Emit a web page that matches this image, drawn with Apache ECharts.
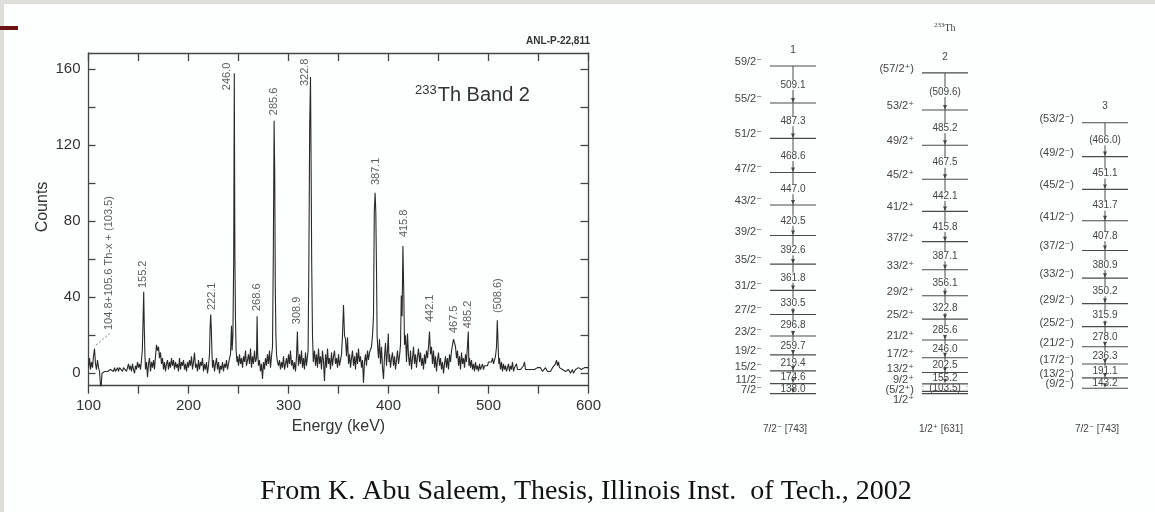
<!DOCTYPE html>
<html><head><meta charset="utf-8">
<script src="https://cdn.jsdelivr.net/npm/echarts@6/dist/echarts.min.js"></script>
<style>html,body{margin:0;padding:0;background:#fdfefe;}#c{width:1155px;height:512px;}</style>
</head><body><div id="c"></div>
<script>
// ---------------- data: spectrum (energy keV, counts) ----------------
const spectrum = [
[100,3],[101,8],[102,2],[103,6],[104,3],[105,9],[106,13],[107,5],[108,2],[109,7],[110,3],[111,1],[112,0],[112.4,-9],[113.2,-9],[113.5,0],[114,1],[115,0],[116,1],[117,0],[118,1],[119,1],[120,2],[121,0],[122,2],[123,1],[124,2],[125,1],[126,3],[127,1],[128,2],[129,3],[130,1],[131,3],[132,2],[133,4],[134,1],[135,3],[136,2],[137,4],[138,1],[139,3],[140,5],[141,2],[142,4],[143,1],[144,5],[145,2],[146,0],[147,4],[148,2],[149,6],[150,3],[151,5],[152,2],[153,7],[153.8,12],[154.4,24],[155.2,43],[155.8,24],[156.4,10],[157,2],[158,6],[159,-2],[160,5],[161,8],[162,1],[163,6],[164,3],[165,7],[166,2],[167,9],[168,15],[169,12],[170,14],[171,8],[172,11],[173,5],[174,8],[175,2],[176,6],[177,1],[178,5],[179,7],[180,2],[181,6],[182,3],[183,8],[184,4],[185,7],[186,2],[187,6],[188,3],[189,5],[190,1],[191,8],[192,2],[193,6],[194,4],[195,7],[196,2],[197,5],[198,1],[199,6],[200,3],[201,7],[202,4],[203,9],[204,2],[205,6],[206,11],[207,3],[208,5],[209,1],[210,7],[211,2],[212,6],[213,4],[214,8],[215,1],[216,5],[217,2],[218,6],[219,0],[220,4],[221,10],[221.6,24],[222.2,31],[222.8,24],[223.4,12],[224,3],[225,7],[226,1],[227,5],[228,8],[229,2],[230,6],[231,0],[232,4],[233,2],[234,6],[235,1],[236,5],[237,3],[238,7],[239,2],[240,5],[241,8],[242,10],[243,25],[243.6,12],[244.4,20],[245.2,60],[245.8,158],[246.4,60],[247,28],[247.6,12],[248.5,6],[249,9],[250,4],[251,10],[252,5],[253,8],[254,3],[255,9],[256,6],[257,12],[258,4],[259,7],[260,10],[261,5],[262,13],[263,3],[264,9],[265,5],[266,12],[267,6],[268,8],[268.6,30],[269.2,10],[270,4],[271,7],[272,1],[273,5],[274,-3],[275,6],[276,2],[277,8],[278,4],[279,10],[280,5],[281,12],[282,3],[283,9],[284,14],[284.8,61],[285.6,133],[286.2,107],[286.8,45],[287.4,20],[288,10],[289,6],[290,4],[291,7],[292,2],[293,6],[294,3],[295,9],[296,2],[297,5],[298,8],[299,3],[300,10],[301,5],[302,12],[303,4],[304,7],[305,2],[306,6],[307,1],[308,9],[308.9,22],[309.6,8],[310,4],[311,10],[312,5],[313,12],[314,3],[315,8],[316,2],[317,11],[318,4],[319,9],[319.6,12],[320.4,61],[321.2,131],[322,156],[322.6,110],[323.2,58],[324,20],[324.8,6],[326,12],[327,4],[328,10],[329,3],[330,13],[331,5],[332,9],[333,2],[334,12],[335,6],[336,-4],[337,10],[338,3],[339,13],[340,5],[341,8],[342,2],[343,11],[344,4],[345,9],[346,12],[347,5],[348,8],[349,3],[350,10],[351,4],[352,7],[353,10],[354,20],[355,36],[356,20],[357,18],[358,9],[359,19],[360,5],[361,10],[362,3],[363,8],[364,12],[365,4],[366,9],[367,2],[368,11],[369,5],[370,13],[371,6],[372,9],[373,3],[374,7],[375,-5],[376,6],[377,10],[378,4],[379,12],[380,7],[381,11],[382,12],[383,14],[384,20],[385,30],[385.8,85],[386.6,95],[387.3,85],[388,55],[388.6,20],[389.4,12],[390,8],[391,18],[392,5],[393,14],[394,3],[395,-3],[396,9],[397,16],[398,4],[399,12],[399.8,21],[400.5,6],[401,10],[402,3],[403,8],[404,11],[405,4],[406,9],[407,2],[408,7],[409,12],[410,5],[411,9],[412,15],[412.8,41],[413.6,30],[414.4,67],[415.2,45],[416,15],[417,20],[418,6],[419,21],[420,9],[421,4],[422,12],[423,2],[424,8],[425,14],[426,5],[427,10],[428,3],[429,9],[430,13],[431,6],[432,11],[433,4],[434,8],[435,2],[436,10],[437,5],[438,12],[439,8],[440,14],[441,22],[442,10],[443,14],[444,5],[445,12],[446,3],[447,9],[448,1],[449,7],[450,11],[451,4],[452,8],[453,2],[454,6],[455,0],[456,5],[457,9],[458,3],[459,8],[460,2],[461,10],[462,6],[463,12],[464,15],[465,18],[466,17],[467,14],[468,8],[469,12],[470,4],[471,9],[472,2],[473,11],[474,5],[475,8],[476,3],[477,10],[478,6],[479.4,6],[479.8,22],[480.4,4],[481,8],[482,3],[483,7],[484,2],[485,5],[486,1],[487,6],[488,2],[489,4],[490,1],[491,5],[492,2],[493,3],[494,5],[495,2],[496,4],[497,3],[498,5],[499,4],[500,6],[501,5],[502,7],[503,6],[504,8],[505,5],[506,7],[507,9],[508,14],[508.8,28],[509.6,15],[510.3,5],[511,8],[512,2],[513,6],[514,1],[515,5],[516,2],[517,4],[518,1],[519,3],[520,5],[521,1],[522,4],[523,2],[524,6],[525,1],[526,3],[527,2],[528,5],[529,2],[530,2],[531,3],[532,2],[533,3],[534,2],[535,4],[536,6],[537,2],[538,3],[539,2],[540,2],[541,1],[542,2],[543,2],[544,1],[545,2],[546,2],[547,3],[548,2],[549,3],[550,4],[551,2],[552,3],[553,2],[554,1],[555,2],[556,2],[557,3],[558,2],[559,1],[560,2],[561,2],[562,1],[563,2],[564,3],[565,2],[566,4],[567,5],[568,7],[569,4],[570,6],[571,3],[572,2],[573,4],[574,2],[575,1],[576,2],[577,1],[578,2],[579,1],[580,2],[581,1],[582,0],[583,1],[584,2],[585,0],[586,1],[587,2],[588,3],[589,2],[590,3],[591,2],[592,3],[593,2],[594,3],[595,2],[596,3],[597,3],[598,2],[599,3],[600,3]
];
// peak annotations (text, energy where the text stands, counts at the text's foot)
const peakLabelText   = ['104.8+105.6 Th-x + (103.5)','155.2','222.1','246.0','268.6','285.6','308.9','322.8','387.1','415.8','442.1','467.5','485.2','(508.6)'];
const peakLabelEnergy = [120.5,154.8,223.2,238.5,268.8,285.5,308.2,316,387.1,415.5,441.5,465.5,479.8,509.8];
const peakLabelFoot   = [22.8,44.9,33.3,149,32.8,135.9,25.9,151.2,99.1,71.7,27,21.2,23.8,31.7];
const leaderLine = [[107.5,14.9],[121.5,21]];
// axis ticks
const xLabelValues = [100,200,300,400,500,600];
const xTickValues  = [100,150,200,250,300,350,400,450,500,550,600];
const yLabelValues = [0,40,80,120,160];
const yTickValues  = [0,20,40,60,80,100,120,140,160];

// ---------------- data: level schemes ----------------
const bandNames   = ['7/2⁻ [743]','1/2⁺ [631]','7/2⁻ [743]'];
const bandNumbers = ['1','2','3'];
const band1Spins  = ['7/2⁻','11/2⁻','15/2⁻','19/2⁻','23/2⁻','27/2⁻','31/2⁻','35/2⁻','39/2⁻','43/2⁻','47/2⁻','51/2⁻','55/2⁻','59/2⁻'];
const band1Levels = [0,138.0,312.6,532.0,791.7,1088.5,1419.0,1780.8,2173.4,2593.9,3040.9,3509.5,3996.8,4505.9];
const band1Gammas = ['138.0','174.6','219.4','259.7','296.8','330.5','361.8','392.6','420.5','447.0','468.6','487.3','509.1'];
const band2Spins  = ['1/2⁺','(5/2⁺)','9/2⁺','13/2⁺','17/2⁺','21/2⁺','25/2⁺','29/2⁺','33/2⁺','37/2⁺','41/2⁺','45/2⁺','49/2⁺','53/2⁺','(57/2⁺)'];
const band2Levels = [0,31.0,134.5,289.7,492.2,738.2,1023.8,1346.6,1702.7,2089.8,2505.6,2947.7,3415.2,3900.4,4410.0];
const band2Gammas = ['(103.5)','155.2','202.5','246.0','285.6','322.8','356.1','387.1','415.8','442.1','467.5','485.2','(509.6)'];
const band3Spins  = ['(9/2⁻)','(13/2⁻)','(17/2⁻)','(21/2⁻)','(25/2⁻)','(29/2⁻)','(33/2⁻)','(37/2⁻)','(41/2⁻)','(45/2⁻)','(49/2⁻)','(53/2⁻)'];
const band3Levels = [73,216.2,407.3,643.6,921.6,1237.5,1587.7,1968.6,2376.4,2808.1,3259.2,3725.2];
const band3Gammas = ['143.2','191.1','236.3','278.0','315.9','350.2','380.9','407.8','431.7','451.1','(466.0)'];

// ---------------- build rows ----------------
const bands = [
  {spins: band1Spins, levels: band1Levels, gammas: band1Gammas, gammaFrom: 0, stemFrom: 0},
  {spins: band2Spins, levels: band2Levels, gammas: band2Gammas, gammaFrom: 1, stemFrom: 2},
  {spins: band3Spins, levels: band3Levels, gammas: band3Gammas, gammaFrom: 0, stemFrom: 0}
];
const levelRows = [], gammaRows = [], stemRows = [];
bands.forEach((b, bi) => {
  b.levels.forEach((e, li) => levelRows.push({band: bi, e: e, spin: b.spins[li], top: li === b.levels.length - 1}));
  b.gammas.forEach((g, gi) => { const lo = gi + b.gammaFrom; gammaRows.push({band: bi, lo: b.levels[lo], hi: b.levels[lo + 1], text: g, arrow: lo >= b.stemFrom, tentative: lo < b.stemFrom}); });
  stemRows.push({band: bi, lo: b.levels[b.stemFrom], hi: b.levels[b.levels.length - 1]});
});
// layout tweaks (style only)
const bandNudge = [0, -4, 0];
const spinShift = {'(5/2⁺)': 3, '1/2⁺': 10};
const SF = '"Liberation Sans", Arial, sans-serif';
const LVF = '10px "Liberation Sans", "DejaVu Sans", sans-serif';
const SPF = '11px "Liberation Sans", "DejaVu Sans", sans-serif';
const inkL = '#4a4a4a';

function renderStem(params, api) {
  const r = stemRows[params.dataIndex];
  const a = api.coord([r.band, r.lo]), b = api.coord([r.band, r.hi]);
  const x = a[0] + bandNudge[r.band];
  return {type: 'line', shape: {x1: x, y1: a[1], x2: x, y2: b[1]}, style: {stroke: inkL, lineWidth: 1}};
}
function renderGamma(params, api) {
  const r = gammaRows[params.dataIndex];
  const lo = api.coord([r.band, r.lo]), hi = api.coord([r.band, r.hi]);
  const x = lo[0] + bandNudge[r.band], ym = (lo[1] + hi[1]) / 2;
  const ch = [{type: 'text', style: {text: r.text, x: x, y: ym + 0.5, align: 'center', verticalAlign: 'middle', font: LVF, fill: '#444', backgroundColor: '#fdfefe', padding: [0, 1]}}];
  if (r.arrow) ch.push({type: 'polygon', shape: {points: [[x - 2, lo[1] - 5], [x + 2, lo[1] - 5], [x, lo[1] - 0.5]]}, style: {fill: '#444'}});
  if (r.tentative) {
    [-22, 22].forEach(dx => ch.push({type: 'line', shape: {x1: x + dx, y1: hi[1] + 2, x2: x + dx, y2: lo[1] - 2}, style: {stroke: '#777', lineWidth: 1, lineDash: [1, 2]}}));
  }
  return {type: 'group', children: ch};
}
function renderLevel(params, api) {
  const r = levelRows[params.dataIndex];
  const p = api.coord([r.band, r.e]);
  const x = p[0] + bandNudge[r.band];
  const ch = [
    {type: 'line', shape: {x1: x - 23, y1: p[1], x2: x + 23, y2: p[1]}, style: {stroke: inkL, lineWidth: 1.1}},
    {type: 'text', style: {text: r.spin, x: x - 31, y: p[1] - 4 + (spinShift[r.spin] || 0), align: 'right', verticalAlign: 'middle', font: SPF, fill: '#444'}}
  ];
  if (r.top) ch.push({type: 'text', style: {text: bandNumbers[r.band], x: x, y: p[1] - 16, align: 'center', verticalAlign: 'middle', font: LVF, fill: '#444'}});
  return {type: 'group', children: ch};
}

const chart = echarts.init(document.getElementById('c'), null, {renderer: 'canvas', width: 1155, height: 512});
const axisInk = '#444';
chart.setOption({
  animation: false,
  backgroundColor: '#fdfefe',
  grid: [
    {left: 88.5, top: 53, width: 500, height: 332.7},
    {left: 793, top: 30, width: 312, height: 392.7}
  ],
  xAxis: [
    {type: 'value', gridIndex: 0, min: 100, max: 600, position: 'bottom',
     axisLine: {show: true, onZero: false, lineStyle: {color: axisInk, width: 1.3}},
     axisTick: {show: true, inside: false, length: 8, customValues: xTickValues, lineStyle: {color: axisInk, width: 1.3}},
     axisLabel: {customValues: xLabelValues, fontSize: 15, color: '#333', margin: 13, fontFamily: SF},
     splitLine: {show: false},
     name: 'Energy (keV)', nameLocation: 'middle', nameGap: 30,
     nameTextStyle: {fontSize: 16, color: '#333', fontFamily: SF}},
    {type: 'value', gridIndex: 0, min: 100, max: 600, position: 'top',
     axisLine: {show: true, onZero: false, lineStyle: {color: axisInk, width: 1.3}},
     axisTick: {show: true, inside: true, length: 8, customValues: xTickValues, lineStyle: {color: axisInk, width: 1.3}},
     axisLabel: {show: false}, splitLine: {show: false}},
    {type: 'category', gridIndex: 1, data: bandNames, boundaryGap: false,
     axisLine: {show: false}, axisTick: {show: false},
     axisLabel: {fontSize: 10, color: '#444', margin: 2, padding: [0, 16, 0, 0], fontFamily: '"Liberation Sans", "DejaVu Sans", sans-serif'}}
  ],
  yAxis: [
    {type: 'value', gridIndex: 0, min: -6.5, max: 168.6, position: 'left',
     axisLine: {show: true, onZero: false, lineStyle: {color: axisInk, width: 1.3}},
     axisTick: {show: true, inside: true, length: 7, customValues: yTickValues, lineStyle: {color: axisInk, width: 1.3}},
     axisLabel: {customValues: yLabelValues, fontSize: 15, color: '#333', margin: 8, fontFamily: SF},
     splitLine: {show: false}},
    {type: 'value', gridIndex: 0, min: -6.5, max: 168.6, position: 'right',
     axisLine: {show: true, onZero: false, lineStyle: {color: axisInk, width: 1.3}},
     axisTick: {show: true, inside: true, length: 8, customValues: yTickValues, lineStyle: {color: axisInk, width: 1.3}},
     axisLabel: {show: false}, splitLine: {show: false}},
    {type: 'value', gridIndex: 1, min: -400, max: 5000, show: false}
  ],
  series: [
    {type: 'line', xAxisIndex: 0, yAxisIndex: 0, data: spectrum, showSymbol: false, symbol: 'none',
     lineStyle: {color: '#2a2a2a', width: 1.1}, clip: true, z: 3},
    {type: 'line', xAxisIndex: 0, yAxisIndex: 0, data: leaderLine, showSymbol: false, symbol: 'none',
     lineStyle: {color: '#666', width: 0.8, type: [2, 2]}, z: 3},
    {type: 'scatter', xAxisIndex: 0, yAxisIndex: 0, symbolSize: 0, z: 4,
     data: peakLabelEnergy.map((e, i) => [e, peakLabelFoot[i]]),
     label: {show: true, position: [0, 0], rotate: 90, align: 'left', verticalAlign: 'middle',
             formatter: p => peakLabelText[p.dataIndex], fontSize: 11, color: '#333', fontFamily: SF}},
    {type: 'custom', xAxisIndex: 2, yAxisIndex: 2, renderItem: renderStem, data: stemRows.map(r => [r.band, r.lo, r.hi]), z: 2},
    {type: 'custom', xAxisIndex: 2, yAxisIndex: 2, renderItem: renderGamma, data: gammaRows.map(r => [r.band, r.lo, r.hi]), z: 3},
    {type: 'custom', xAxisIndex: 2, yAxisIndex: 2, renderItem: renderLevel, data: levelRows.map(r => [r.band, r.e]), z: 4}
  ],
  graphic: [
    {type: 'rect', left: 0, top: 0, shape: {width: 4, height: 512}, style: {fill: '#dedfda'}, silent: true},
    {type: 'rect', left: 0, top: 0, shape: {width: 1155, height: 4}, style: {fill: '#dedfda'}, silent: true},
    {type: 'rect', left: 0, top: 26, shape: {width: 18, height: 4}, style: {fill: '#6d1212'}, silent: true},
    {type: 'text', x: 43, y: 207, rotation: Math.PI / 2, style: {text: 'Counts', font: '16px "Liberation Sans", Arial, sans-serif', fill: '#333', align: 'center', verticalAlign: 'middle'}},
    {type: 'text', right: 1155 - 590, top: 36, style: {text: 'ANL-P-22,811', font: 'bold 10px "Liberation Sans", sans-serif', fill: '#333'}},
    {type: 'text', left: 415, top: 84, style: {text: '{s|233}{n|Th Band 2}', rich: {s: {fontSize: 13, fontFamily: SF, fill: '#333', padding: [0, 1, 9, 0]}, n: {fontSize: 20, fontFamily: SF, fill: '#333'}}}},
    {type: 'text', left: 934, top: 22, style: {text: '{s|233}{n|Th}', rich: {s: {fontSize: 7, fontFamily: '"Liberation Serif", serif', fill: '#444', padding: [0, 0, 5, 0]}, n: {fontSize: 10, fontFamily: '"Liberation Serif", serif', fill: '#444'}}}},
    {type: 'text', x: 586, y: 492, style: {text: 'From K. Abu Saleem, Thesis, Illinois Inst.  of Tech., 2002', font: '28px "Liberation Serif", serif', fill: '#111', align: 'center', verticalAlign: 'middle'}}
  ]
});
</script></body></html>
